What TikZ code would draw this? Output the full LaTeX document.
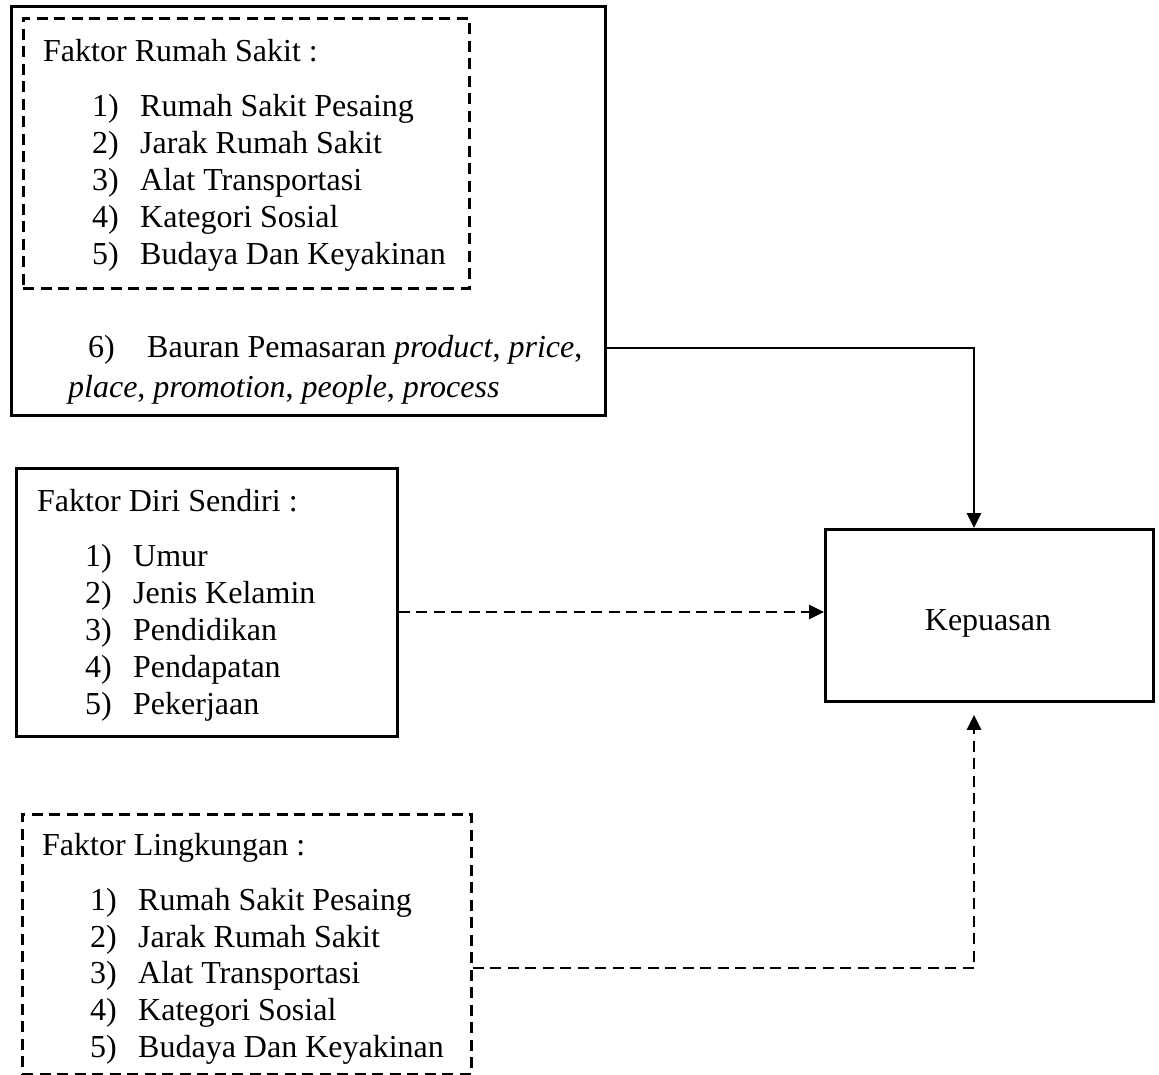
\documentclass[tikz,border=0pt]{standalone}
\usepackage{fontspec}
\setmainfont{Liberation Serif}
\usetikzlibrary{arrows.meta}
\begin{document}
\begin{tikzpicture}[x=1pt,y=-1pt,
  txt/.style={anchor=base west, inner sep=0pt, font=\fontsize{32}{38}\selectfont},
  ctxt/.style={txt, anchor=base},
  solidbox/.style={draw, line width=2.8pt, anchor=north west, inner sep=0pt},
  dashbox/.style={solidbox, dash pattern=on 11pt off 6.5pt},
  link/.style={line width=2.8pt},
  dlink/.style={link, dash pattern=on 11pt off 6.5pt},
  tip/.style={-{Triangle[length=15pt,width=14pt]}}]
\useasboundingbox (0,0) rectangle (1159,1075);
\fill[white] (0,0) rectangle (1159,1075);

% Box A
\node[solidbox, minimum width=594pt, minimum height=409pt] (boxA) at (10,5) {};
\node[dashbox, minimum width=446pt, minimum height=270pt] (boxAin) at (22,17) {};
\node[txt] (a0) at (43,62) {Faktor Rumah Sakit :};
\node[txt] (a1n) at (92,117) {1)}; \node[txt] (a1) at (140,117) {Rumah Sakit Pesaing};
\node[txt] (a2n) at (92,154) {2)}; \node[txt] (a2) at (140,154) {Jarak Rumah Sakit};
\node[txt] (a3n) at (92,191) {3)}; \node[txt] (a3) at (140,191) {Alat Transportasi};
\node[txt] (a4n) at (92,228) {4)}; \node[txt] (a4) at (140,228) {Kategori Sosial};
\node[txt] (a5n) at (92,265) {5)}; \node[txt] (a5) at (140,265) {Budaya Dan Keyakinan};
\node[txt] (a6n) at (88,357) {6)};
\node[txt] (a6) at (147,357) {Bauran Pemasaran \textit{product}, \textit{price},};
\node[txt] (a6b) at (68,397) {\textit{place}, \textit{promotion}, \textit{people}, \textit{process}};

% Box B
\node[solidbox, minimum width=381pt, minimum height=268pt] (boxB) at (15,467) {};
\node[txt] (b0) at (37,511) {Faktor Diri Sendiri :};
\node[txt] (b1n) at (85,566) {1)}; \node[txt] (b1) at (133,566) {Umur};
\node[txt] (b2n) at (85,603) {2)}; \node[txt] (b2) at (133,603) {Jenis Kelamin};
\node[txt] (b3n) at (85,640) {3)}; \node[txt] (b3) at (133,640) {Pendidikan};
\node[txt] (b4n) at (85,677) {4)}; \node[txt] (b4) at (133,677) {Pendapatan};
\node[txt] (b5n) at (85,714) {5)}; \node[txt] (b5) at (133,714) {Pekerjaan};

% Box C
\node[dashbox, minimum width=449pt, minimum height=260pt] (boxC) at (21,813) {};
\node[txt] (c0) at (42,855) {Faktor Lingkungan :};
\node[txt] (c1n) at (90,910) {1)}; \node[txt] (c1) at (138,910) {Rumah Sakit Pesaing};
\node[txt] (c2n) at (90,947) {2)}; \node[txt] (c2) at (138,947) {Jarak Rumah Sakit};
\node[txt] (c3n) at (90,983) {3)}; \node[txt] (c3) at (138,983) {Alat Transportasi};
\node[txt] (c4n) at (90,1020) {4)}; \node[txt] (c4) at (138,1020) {Kategori Sosial};
\node[txt] (c5n) at (90,1057) {5)}; \node[txt] (c5) at (138,1057) {Budaya Dan Keyakinan};

% Kepuasan
\node[solidbox, minimum width=328pt, minimum height=172pt] (k) at (824,528) {};
\node[ctxt] (kt) at (988,630) {Kepuasan};

% connectors
\coordinate (j1) at (974,348);
\coordinate (j2) at (974,968);
\draw[link, tip] (boxA.east |- j1) -- (j1) -- (k.north -| j1);
\draw[dlink, tip] (boxB.east |- 0,612) -- (k.west |- 0,612);
\draw[dlink, tip, shorten >=12pt] (boxC.east |- j2) -- (j2) -- (k.south -| j2);
\end{tikzpicture}
\end{document}
